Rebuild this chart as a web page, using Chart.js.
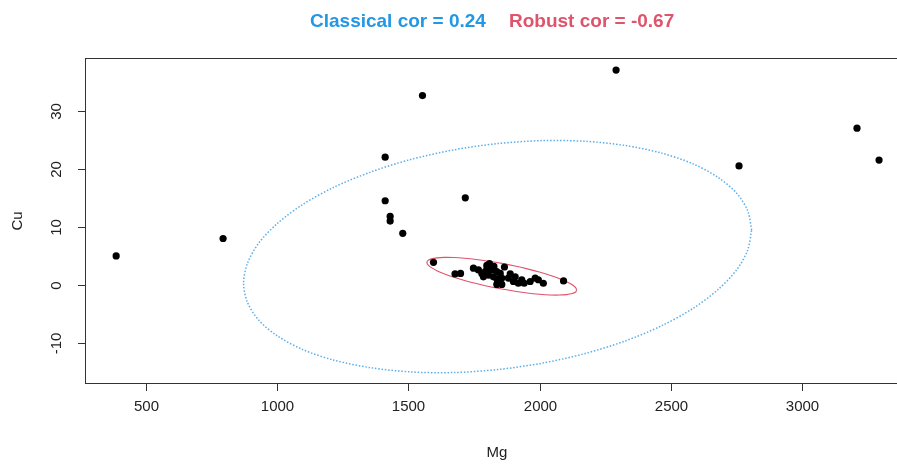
<!DOCTYPE html>
<html>
<head>
<meta charset="utf-8">
<script src="https://cdn.jsdelivr.net/npm/chart.js@4/dist/chart.umd.min.js"></script>
<style>
  html, body { margin: 0; padding: 0; background: #fff; overflow: hidden; width: 897px; height: 466px; }
  #wrap { width: 930px; height: 466px; }
</style>
</head>
<body>
<div id="wrap"><canvas id="c" width="930" height="466"></canvas></div>
<script>
// ---- data ----
const titleClassical = "Classical cor = 0.24";
const titleRobust = "Robust cor = -0.67";
const xLabel = "Mg";
const yLabel = "Cu";
const xTicks = [500, 1000, 1500, 2000, 2500, 3000];
const yTicks = [-10, 0, 10, 20, 30];

const mg = [388, 795, 1554, 1412, 1412, 1431, 1431, 1479, 1717, 2291, 2759, 3208, 3292,
  1596, 1678, 1699, 1748, 1799, 1809, 1793, 1780, 1786, 1805, 1818, 1837, 1850, 1866,
  1856, 1837, 1856, 1881, 1907, 1900, 1919, 1932, 1964, 1983, 1995, 2014, 2091,
  1767, 1824, 1888, 1941, 1800, 1826, 1838];
const cu = [5.0, 8.0, 32.6, 22.0, 14.5, 11.8, 11.0, 8.9, 15.0, 37.0, 20.5, 27.0, 21.5,
  3.9, 1.9, 2.0, 2.9, 3.4, 3.7, 2.3, 2.0, 1.4, 1.7, 2.6, 2.3, 2.0, 3.1,
  1.2, 0.1, 0.1, 1.2, 1.4, 0.6, 0.3, 0.9, 0.6, 1.2, 0.9, 0.3, 0.7,
  2.6, 1.4, 1.9, 0.3, 2.9, 3.2, 1.0];

// classical tolerance ellipse outline
const classicalMg = [2807, 2792, 2749, 2677, 2581, 2462, 2324, 2171, 2008, 1840, 1672, 1509, 1357, 1218, 1099, 1003, 931, 888,
  873, 888, 931, 1003, 1099, 1218, 1357, 1509, 1672, 1840, 2008, 2171, 2324, 2462, 2581, 2677, 2749, 2792, 2807];
const classicalCu = [9.47, 12.78, 15.85, 18.59, 20.91, 22.73, 24.02, 24.74, 24.85, 24.34, 23.25, 21.60, 19.44, 16.85, 13.89, 10.65, 7.23, 3.76,
  0.31, -3.00, -6.07, -8.81, -11.13, -12.95, -14.24, -14.96, -15.07, -14.56, -13.47, -11.82, -9.66, -7.07, -4.11, -0.87, 2.55, 6.02, 9.47];

// robust tolerance ellipse outline
const robustMg = [2141, 2137, 2124, 2103, 2074, 2039, 1999, 1953, 1906, 1856, 1806, 1759, 1714, 1673, 1638, 1609, 1588, 1575,
  1571, 1575, 1588, 1609, 1638, 1673, 1714, 1759, 1806, 1856, 1906, 1953, 1999, 2039, 2074, 2103, 2124, 2137, 2141];
const robustCu = [-0.87, -0.44, 0.03, 0.56, 1.11, 1.68, 2.24, 2.78, 3.27, 3.72, 4.10, 4.40, 4.61, 4.73, 4.75, 4.67, 4.50, 4.23,
  3.89, 3.46, 2.99, 2.46, 1.91, 1.34, 0.78, 0.25, -0.25, -0.70, -1.08, -1.38, -1.59, -1.71, -1.73, -1.65, -1.48, -1.21, -0.87];

const toXY = (xs, ys) => xs.map((x, i) => ({ x: x, y: ys[i] }));

const BLUE = '#2297E6';
const BLUE_DOT = '#5aaeea';
const RED = '#DF536B';
const FONT = '"Liberation Sans", Arial, sans-serif';

const axesPlugin = {
  id: 'rAxes',
  afterDraw(chart) {
    const ctx = chart.ctx;
    const a = chart.chartArea;
    const xs = chart.scales.x, ys = chart.scales.y;
    ctx.save();
    // box
    ctx.strokeStyle = '#333';
    ctx.lineWidth = 1;
    ctx.strokeRect(a.left + 0.5, a.top + 0.5, a.right - a.left - 1, a.bottom - a.top - 1);
    ctx.fillStyle = '#222';
    ctx.font = '15px ' + FONT;
    // x ticks
    ctx.textAlign = 'center';
    ctx.textBaseline = 'middle';
    xTicks.forEach(v => {
      const px = Math.round(xs.getPixelForValue(v)) + 0.5;
      ctx.beginPath();
      ctx.moveTo(px, a.bottom);
      ctx.lineTo(px, a.bottom + 7);
      ctx.stroke();
      ctx.fillText(String(v), px, 407);
    });
    // y ticks
    yTicks.forEach(v => {
      const py = Math.round(ys.getPixelForValue(v)) + 0.5;
      ctx.beginPath();
      ctx.moveTo(a.left, py);
      ctx.lineTo(a.left - 7, py);
      ctx.stroke();
      ctx.save();
      ctx.translate(57, py);
      ctx.rotate(-Math.PI / 2);
      ctx.fillText(String(v), 0, 0);
      ctx.restore();
    });
    // axis titles
    ctx.fillText(xLabel, 497, 453);
    ctx.save();
    ctx.translate(18, 221);
    ctx.rotate(-Math.PI / 2);
    ctx.fillText(yLabel, 0, 0);
    ctx.restore();
    // title
    ctx.font = 'bold 19px ' + FONT;
    ctx.textAlign = 'left';
    ctx.textBaseline = 'alphabetic';
    ctx.fillStyle = BLUE;
    ctx.fillText(titleClassical, 310, 27);
    ctx.fillStyle = RED;
    ctx.fillText(titleRobust, 509, 27);
    ctx.restore();
  }
};

new Chart(document.getElementById('c'), {
  type: 'scatter',
  data: {
    datasets: [
      {
        label: 'points',
        data: toXY(mg, cu),
        backgroundColor: '#000',
        borderColor: '#000',
        pointRadius: 3.6,
        pointBorderWidth: 0,
        order: 0
      },
      {
        label: 'robust',
        type: 'line',
        data: toXY(robustMg, robustCu),
        borderColor: RED,
        borderWidth: 1.1,
        pointRadius: 0,
        tension: 0.3,
        fill: false,
        order: 1
      },
      {
        label: 'classical',
        type: 'line',
        data: toXY(classicalMg, classicalCu),
        borderColor: BLUE_DOT,
        borderWidth: 1.5,
        borderDash: [1.5, 1.8],
        pointRadius: 0,
        tension: 0.3,
        fill: false,
        order: 2
      }
    ]
  },
  options: {
    responsive: false,
    animation: false,
    devicePixelRatio: 1,
    layout: { padding: { left: 85, top: 58, right: 21, bottom: 82 } },
    plugins: { legend: { display: false }, title: { display: false }, tooltip: { enabled: false } },
    scales: {
      x: { type: 'linear', display: false, min: 269.4, max: 3406 },
      y: { type: 'linear', display: false, min: -17.04, max: 39.07 }
    }
  },
  plugins: [axesPlugin]
});
</script>
</body>
</html>
